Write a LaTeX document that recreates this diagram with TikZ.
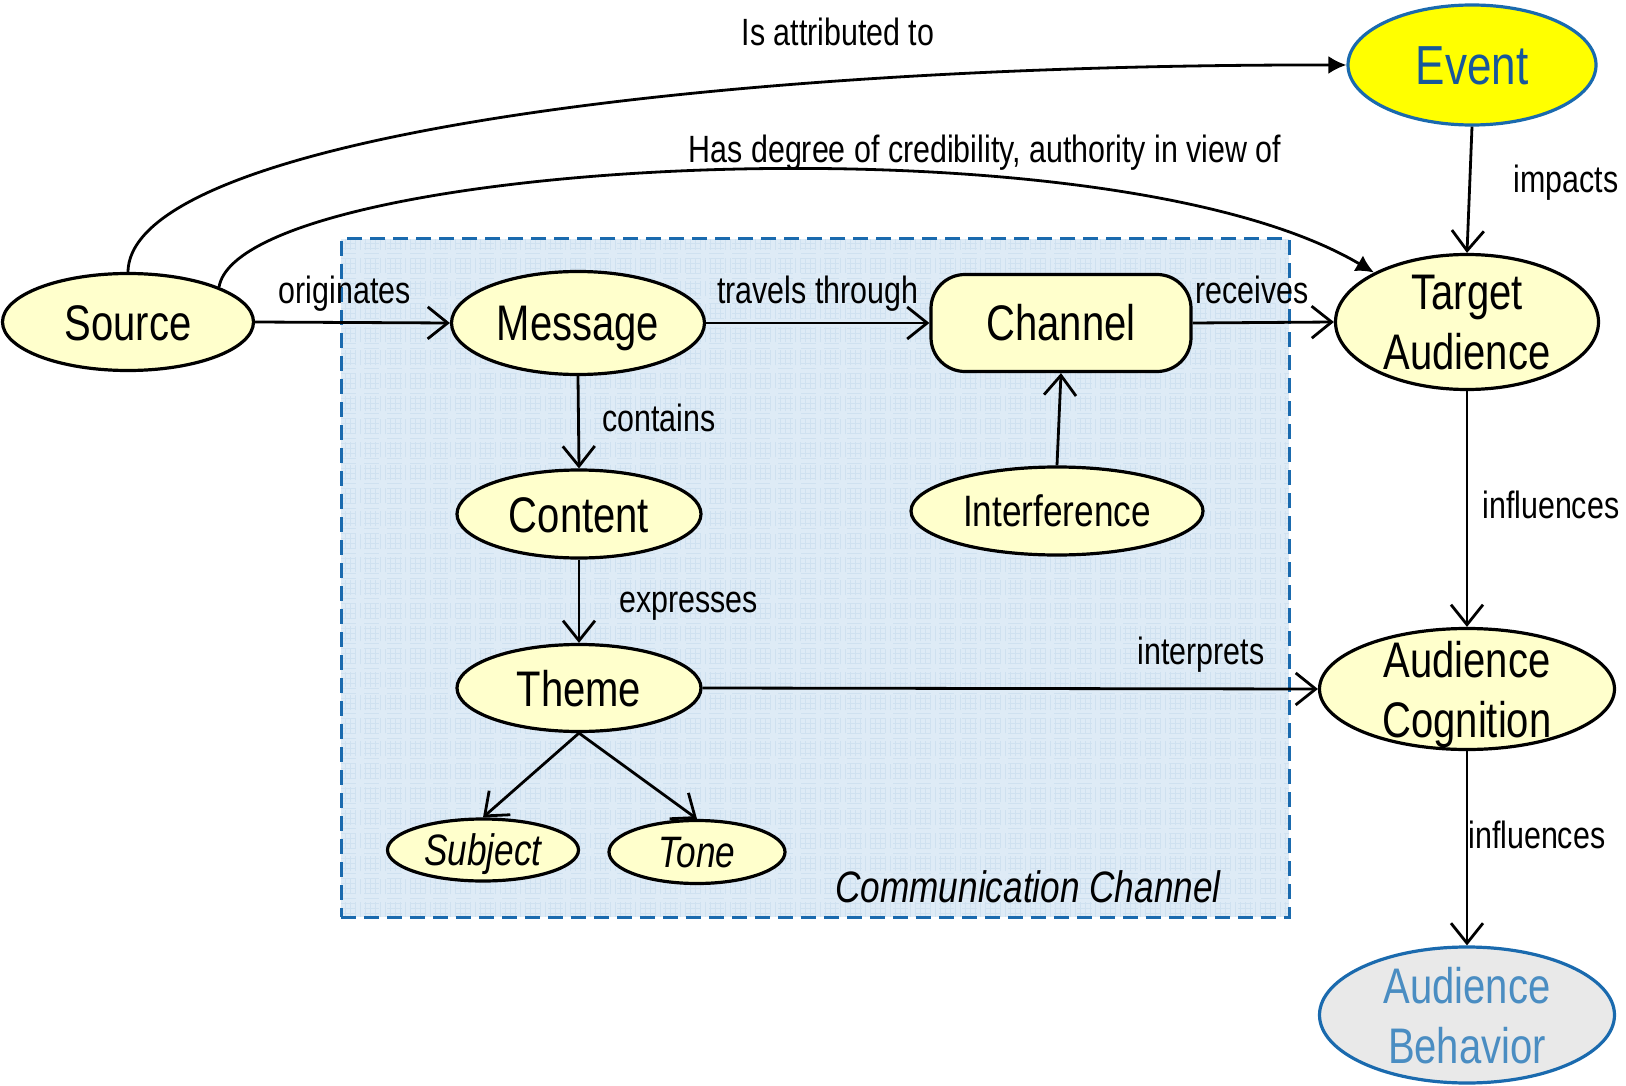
\documentclass[tikz,border=0pt]{standalone}
\usepackage{fontspec}
\setmainfont{Liberation Sans}[FakeStretch=0.8]
\usetikzlibrary{shapes.geometric,arrows.meta}
\definecolor{nodefill}{HTML}{FFFFCC}
\definecolor{eventfill}{HTML}{FFFF00}
\definecolor{bluestroke}{HTML}{1A6AAE}
\definecolor{eventtext}{HTML}{17579A}
\definecolor{behavtext}{HTML}{4A8DC2}
\definecolor{behavfill}{HTML}{E9E9E9}
\definecolor{boxfill}{HTML}{DEEBF6}
\definecolor{gridcol}{HTML}{CFE1F0}
\begin{document}
\begin{tikzpicture}[x=1pt,y=-1pt,
  ell/.style={ellipse, draw, line width=3.2pt, fill=nodefill, inner sep=0pt,
              text height=36pt, text depth=0pt, font=\fontsize{50}{60}\selectfont},
  smallell/.style={ell, text height=31.5pt, font=\fontsize{44}{50}\selectfont\itshape},
  lbl/.style={font=\fontsize{38}{44}\selectfont, inner sep=0pt, anchor=base},
  conn/.style={line width=2.8pt, -{Straight Barb[length=20pt,width=32pt]}},
  curv/.style={line width=2.8pt, -{Latex[length=18pt,width=18pt]}},
  twoline/.style={font=\fontsize{50}{60}\selectfont, align=center, inner sep=0pt, text depth=0pt}
]
\useasboundingbox (0,0) rectangle (1626,1086);

% communication channel box
\node[draw=bluestroke, line width=3pt, dash pattern=on 15pt off 8pt, fill=boxfill,
      minimum width=948pt, minimum height=678pt, inner sep=0pt,
      path picture={\draw[gridcol, line width=0.7pt, step=5pt]
        (path picture bounding box.south west) grid (path picture bounding box.north east);}]
      (ccbox) at (815,578) {};
\node[font=\fontsize{44}{50}\selectfont\itshape, inner sep=0pt, anchor=base] (cclabel) at (1028,902) {Communication Channel};

% nodes
\node[ell, minimum width=251pt, minimum height=97pt] (source) at (128,322) {Source};
\node[ell, minimum width=253pt, minimum height=103pt] (message) at (578,323) {Message};
\node[draw, line width=3.2pt, fill=nodefill, rounded corners=34pt, minimum width=260pt, minimum height=97pt,
      inner sep=0pt, text height=36pt, text depth=0pt, font=\fontsize{50}{60}\selectfont] (channel) at (1061,323) {Channel};
\node[ell, minimum width=292pt, minimum height=88pt, text height=31.5pt, font=\fontsize{44}{50}\selectfont] (interf) at (1057,511) {Interference};
\node[ell, minimum width=244pt, minimum height=88pt] (content) at (579,514) {Content};
\node[ell, minimum width=244pt, minimum height=87pt] (theme) at (579,688) {Theme};
\node[smallell, minimum width=191pt, minimum height=62pt] (subject) at (483,850) {Subject};
\node[smallell, minimum width=176pt, minimum height=63pt] (tone) at (697,852) {Tone};
\node[ell, draw=bluestroke, fill=eventfill, text=eventtext, minimum width=248pt, minimum height=120pt,
      text height=39.4pt, font=\fontsize{55}{60}\selectfont] (event) at (1472,65) {Event};
\node[ell, minimum width=263pt, minimum height=135pt,
      label={[twoline]center:Target\\Audience}] (target) at (1467,322) {};
\node[ell, minimum width=295pt, minimum height=121pt,
      label={[twoline]center:Audience\\Cognition}] (cognition) at (1467,689) {};
\node[ell, draw=bluestroke, fill=behavfill, minimum width=295pt, minimum height=136pt,
      label={[twoline, text=behavtext]center:Audience\\Behavior}] (behavior) at (1467,1015) {};

% straight connectors
\draw[conn] (source.east) -- node[lbl, pos=0.46, yshift=19pt] {originates} (message.west);
\draw[conn] (message.east) -- node[lbl, pos=0.5, yshift=19pt] {travels through} (channel.west);
\draw[conn] (channel.east) -- node[lbl, pos=0.42, yshift=19pt] {receives} (target.west);
\draw[conn] (message.south) -- node[lbl, pos=0.6, anchor=base west, xshift=22pt] {contains} (content.north);
\draw[conn] (content.south) -- node[lbl, pos=0.63, anchor=base west, xshift=39pt] {expresses} (theme.north);
\draw[conn] (interf.north) -- (channel.south);
\draw[conn] (theme.east) -- node[lbl, pos=0.81, yshift=24pt] {interprets} (cognition.west);
\draw[conn] (theme.south) -- (subject.north);
\draw[conn] (theme.south) -- (tone.north);
\draw[conn] (event.south) -- node[lbl, pos=0.52, anchor=base west, xshift=43pt] {impacts} (target.north);
\draw[conn] (target.south) -- node[lbl, pos=0.54, anchor=base west, xshift=14pt] {influences} (cognition.north);
\draw[conn] (cognition.south) -- node[lbl, pos=0.5, anchor=base west, xshift=0pt] {influences} (behavior.north);

% curved connectors
\draw[curv] (source.north) .. controls (130,140) and (700,64) .. (event.west);
\draw[curv] (source.21) .. controls (240,160) and (1100,110) .. (target.152);
\node[lbl] (attrlbl) at (838,46) {Is attributed to};
\node[lbl] (credlbl) at (985,163) {Has degree of credibility, authority in view of};
\end{tikzpicture}
\end{document}
